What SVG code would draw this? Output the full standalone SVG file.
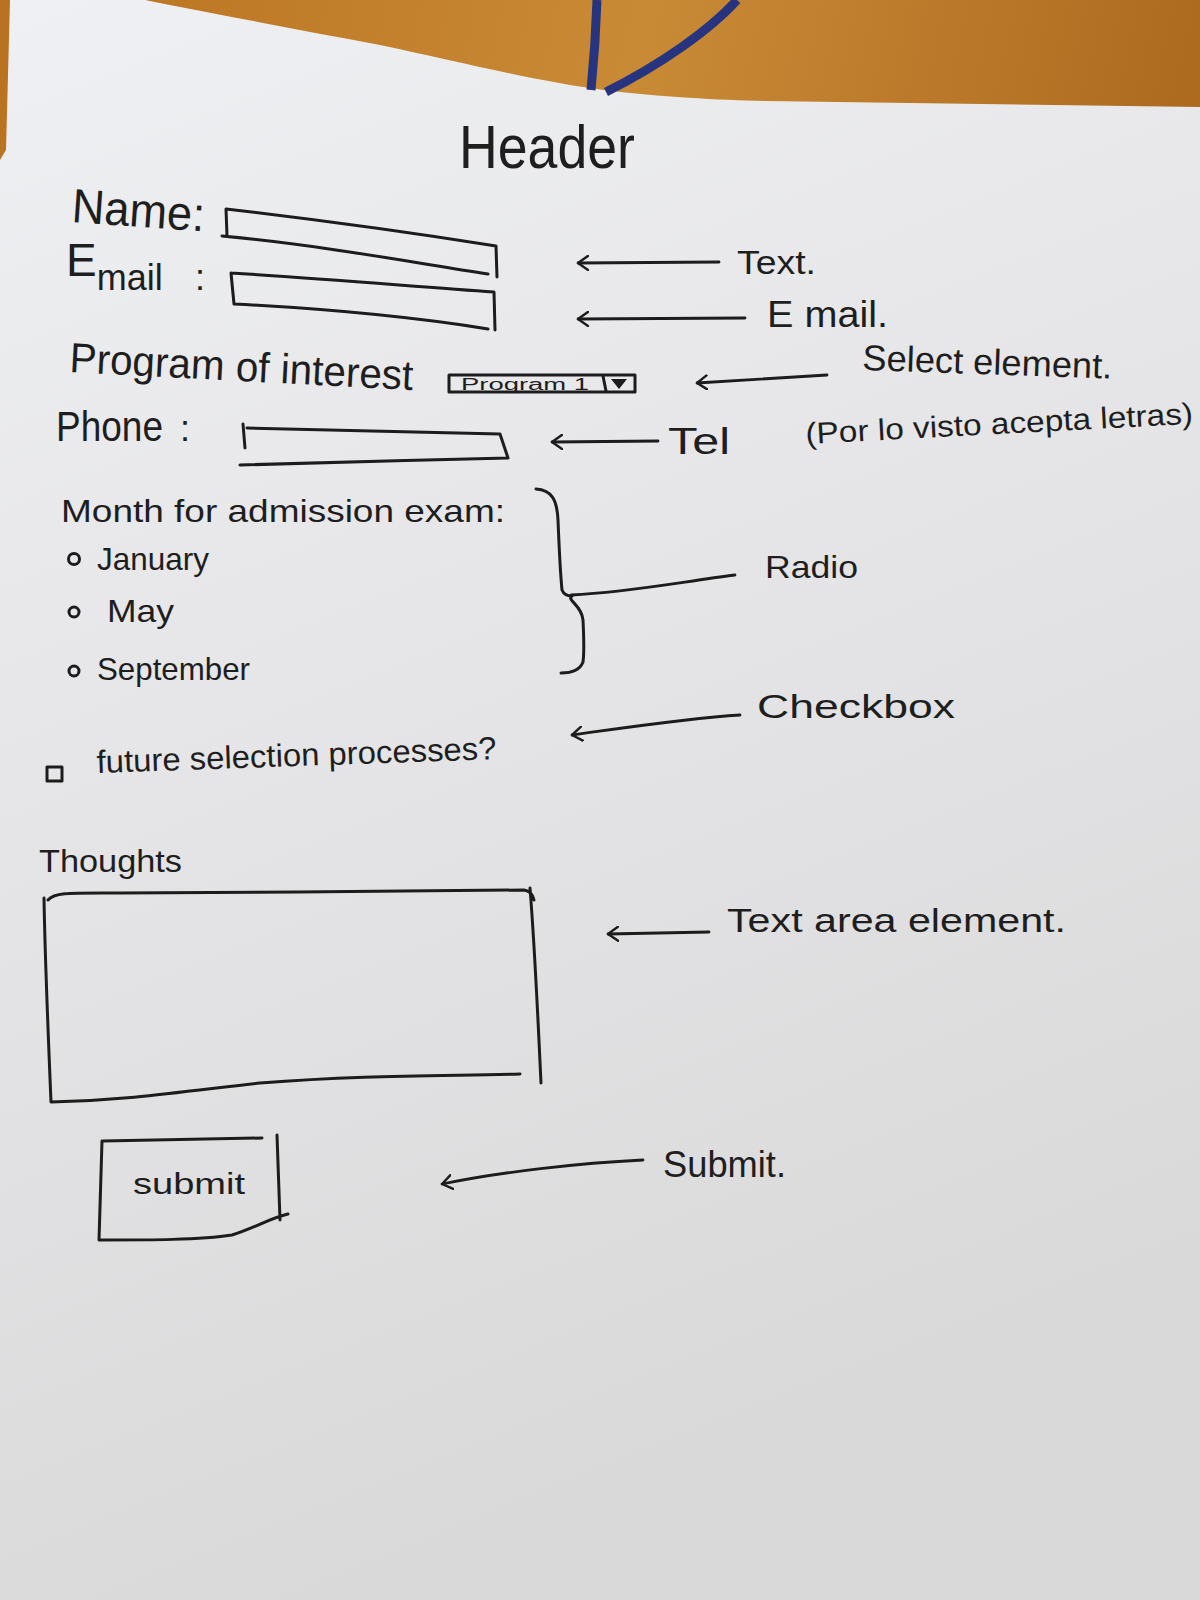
<svg xmlns="http://www.w3.org/2000/svg" width="1200" height="1600" viewBox="0 0 1200 1600">
<defs>
<linearGradient id="wood" x1="0" y1="0" x2="1" y2="0.3">
<stop offset="0" stop-color="#b9721f"/>
<stop offset="0.5" stop-color="#c98a36"/>
<stop offset="1" stop-color="#a8651c"/>
</linearGradient>
<linearGradient id="paper" x1="0" y1="0" x2="0.3" y2="1">
<stop offset="0" stop-color="#eff0f3"/>
<stop offset="0.45" stop-color="#e6e6e8"/>
<stop offset="1" stop-color="#d9d9da"/>
</linearGradient>
<marker id="arr" viewBox="0 0 12 16" refX="11" refY="8" markerWidth="12" markerHeight="16" markerUnits="userSpaceOnUse" orient="auto-start-reverse">
<path d="M1,1 L11,8 L1,15" fill="none" stroke="#1c1c1c" stroke-width="2.4" stroke-linecap="round" stroke-linejoin="round"/>
</marker>
<style>
.ink{fill:none;stroke:#1c1c1c;stroke-width:3;stroke-linecap:round;stroke-linejoin:round}
.t{font-family:"Liberation Sans",Arial,sans-serif;fill:#1e1e1e}
.conn{fill:none;stroke:#1c1c1c;stroke-width:2.8;stroke-linecap:round}
</style>
</defs>

<g id="background">
<rect x="0" y="0" width="1200" height="1600" fill="url(#wood)"/>
<path d="M10,0 L145,0 C220,15 300,30 380,45 C460,62 540,82 604,90 C660,97 720,100 765,101 L1200,107 L1200,1600 L0,1600 L0,160 L6,150 Z" fill="url(#paper)"/>
<path d="M597,0 C596,30 594,60 591,90" fill="none" stroke="#27347f" stroke-width="9"/>
<path d="M737,0 C710,30 660,65 606,92" fill="none" stroke="#27347f" stroke-width="9"/>
</g>

<g id="header"><text class="t" x="459" y="168" font-size="62" textLength="176" lengthAdjust="spacingAndGlyphs">Header</text></g>

<g id="name-field">
<text class="t" x="71" y="222" font-size="48" textLength="133" lengthAdjust="spacingAndGlyphs" transform="rotate(4 71 222)">Name:</text>
<path class="ink" d="M227,236 L226,209 C320,220 420,234 496,246 L497,277 M222,236 C320,245 410,262 488,274"/>
</g>

<g id="email-field">
<text class="t" x="66" y="276" font-size="46">E<tspan dy="14" font-size="36">mail</tspan><tspan x="195" dy="0" font-size="36">:</tspan></text>
<path class="ink" d="M231,273 C330,279 420,287 494,292 L495,330 M231,273 L234,304 C330,309 420,318 488,329"/>
</g>

<g id="program-field">
<text class="t" x="69" y="372" font-size="42" textLength="344" lengthAdjust="spacingAndGlyphs" transform="rotate(3 69 372)">Program of interest</text>
<rect class="ink" x="449" y="375" width="186" height="17" stroke-width="2.6"/>
<text class="t" x="461" y="390" font-size="16" textLength="128" lengthAdjust="spacingAndGlyphs">Program 1</text>
<path class="ink" d="M603,376 L606,391" stroke-width="2.2"/>
<path d="M611,379 L627,379 L619,389 Z" fill="#1c1c1c"/>
</g>

<g id="phone-field">
<text class="t" x="56" y="441" font-size="42" textLength="107" lengthAdjust="spacingAndGlyphs">Phone</text>
<text class="t" x="180" y="441" font-size="36">:</text>
<path class="ink" d="M243,424 L245,448 M247,428 C340,430 430,432 500,434 L508,458 C420,460 320,463 240,465"/>
</g>

<g id="radio-group">
<text class="t" x="61" y="522" font-size="32" textLength="444" lengthAdjust="spacingAndGlyphs">Month for admission exam:</text>
<circle class="ink" cx="74" cy="559" r="5.5" stroke-width="2.4"/>
<text class="t" x="97" y="570" font-size="32" textLength="112" lengthAdjust="spacingAndGlyphs">January</text>
<circle class="ink" cx="74" cy="612" r="5" stroke-width="2.4"/>
<text class="t" x="107" y="622" font-size="32" textLength="67" lengthAdjust="spacingAndGlyphs">May</text>
<circle class="ink" cx="74" cy="671" r="5" stroke-width="2.4"/>
<text class="t" x="97" y="680" font-size="32" textLength="153" lengthAdjust="spacingAndGlyphs">September</text>
</g>

<g id="checkbox-field">
<rect class="ink" x="47" y="767" width="15" height="14" stroke-width="2.6"/>
<text class="t" x="97" y="773" font-size="32" textLength="400" lengthAdjust="spacingAndGlyphs" transform="rotate(-2 97 773)">future selection processes?</text>
</g>

<g id="textarea-field">
<text class="t" x="39" y="872" font-size="32" textLength="143" lengthAdjust="spacingAndGlyphs">Thoughts</text>
<path class="ink" d="M48,900 C55,892 70,893 120,893 C250,892 400,892 524,890 C530,891 533,895 534,900 M44,898 C45,960 48,1030 51,1102 C130,1100 180,1092 260,1083 C360,1075 440,1076 520,1074 M530,888 C535,950 538,1020 541,1083"/>
</g>

<g id="submit-button">
<path class="ink" d="M103,1141 C150,1140 200,1139 262,1138 M102,1141 C101,1170 100,1200 99,1240 C150,1240 200,1240 232,1235 C255,1228 270,1218 288,1214 M277,1135 C278,1160 279,1190 280,1220"/>
<text class="t" x="133" y="1194" font-size="30" textLength="112" lengthAdjust="spacingAndGlyphs">submit</text>
</g>

<g id="annotations">
<text class="t" x="737" y="274" font-size="34" textLength="79" lengthAdjust="spacingAndGlyphs">Text.</text>
<text class="t" x="767" y="327" font-size="36" textLength="121" lengthAdjust="spacingAndGlyphs">E mail.</text>
<text class="t" x="862" y="370" font-size="36" textLength="250" lengthAdjust="spacingAndGlyphs" transform="rotate(2 862 370)">Select element.</text>
<text class="t" x="668" y="454" font-size="36" textLength="62" lengthAdjust="spacingAndGlyphs">Tel</text>
<text class="t" x="806" y="444" font-size="30" textLength="388" lengthAdjust="spacingAndGlyphs" transform="rotate(-3 806 444)">(Por lo visto acepta letras)</text>
<text class="t" x="765" y="578" font-size="32" textLength="93" lengthAdjust="spacingAndGlyphs">Radio</text>
<text class="t" x="757" y="718" font-size="34" textLength="198" lengthAdjust="spacingAndGlyphs">Checkbox</text>
<text class="t" x="727" y="932" font-size="34" textLength="339" lengthAdjust="spacingAndGlyphs">Text area element.</text>
<text class="t" x="663" y="1177" font-size="36" textLength="123" lengthAdjust="spacingAndGlyphs">Submit.</text>
</g>

<g id="connectors">
<path class="conn" d="M719,262 L578,263" marker-end="url(#arr)"/>
<path class="conn" d="M745,318 L578,319" marker-end="url(#arr)"/>
<path class="conn" d="M827,375 L697,383" marker-end="url(#arr)"/>
<path class="conn" d="M658,441 L552,442" marker-end="url(#arr)"/>
<path class="ink" d="M536,489 C552,490 557,500 558,520 C559,545 560,570 562,590 C564,595 568,596 572,596 C566,600 582,605 583,620 C584,640 584,655 583,662 C580,670 572,673 561,673"/>
<path class="conn" d="M571,595 C630,592 680,582 735,575"/>
<path class="conn" d="M740,715 C690,718 630,727 572,735" marker-end="url(#arr)"/>
<path class="conn" d="M709,932 L608,934" marker-end="url(#arr)"/>
<path class="conn" d="M643,1160 C580,1163 500,1172 442,1184" marker-end="url(#arr)"/>
</g>
</svg>
